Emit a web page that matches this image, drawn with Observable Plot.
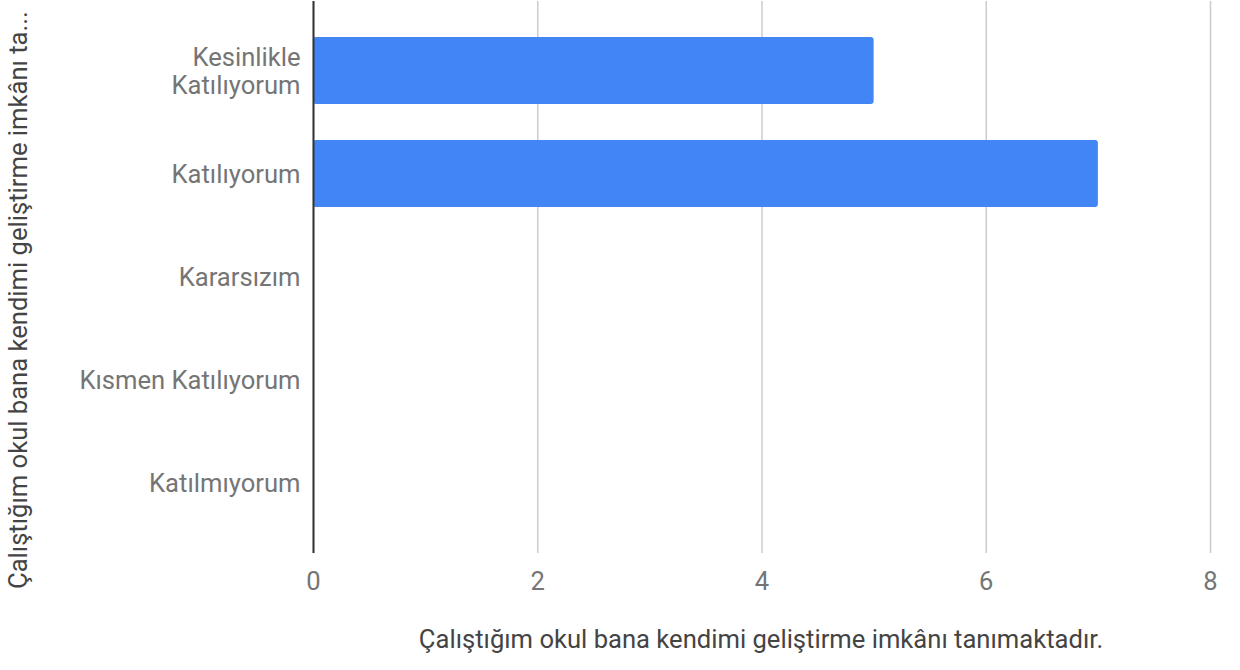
<!DOCTYPE html>
<html><head><meta charset="utf-8">
<script src="https://cdn.jsdelivr.net/npm/d3@7"></script>
<script src="https://cdn.jsdelivr.net/npm/@observablehq/plot@0.6"></script>
<style>body{margin:0;background:#fff;font-family:Roboto, sans-serif}</style>
</head><body><div id="chart"></div>
<script>
const categories = ["Kesinlikle Katılıyorum","Katılıyorum","Kararsızım","Kısmen Katılıyorum","Katılmıyorum"];
const yTickLabels = ["Kesinlikle\nKatılıyorum","Katılıyorum","Kararsızım","Kısmen Katılıyorum","Katılmıyorum"];
const counts = [5,7,0,0,0];
const xTicks = [0,2,4,6,8];
const xTitle = "Çalıştığım okul bana kendimi geliştirme imkânı tanımaktadır.";
const yTitle = "Çalıştığım okul bana kendimi geliştirme imkânı ta...";

const data = categories.map((c,i)=>({category:c, count:counts[i]}));

const chart = Plot.plot({
  width:1240, height:670, marginLeft:313, marginRight:30, marginTop:1, marginBottom:117,
  style:{fontFamily:"Roboto", fontSize:"25.6px", color:"#757575", background:"#fff"},
  x:{domain:[0,8], ticks:xTicks, label:null},
  y:{domain:categories, paddingInner:0.345, paddingOuter:0.35, label:null},
  marks:[
    Plot.gridX(xTicks, {stroke:"#cccccc", strokeOpacity:1, strokeWidth:1.5}),
    Plot.axisX({ticks:xTicks, tickSize:0, tickPadding:18, fill:"#757575", label:null}),
    Plot.axisY({tickSize:0, tickPadding:13, tickFormat:c => yTickLabels[categories.indexOf(c)], lineHeight:1.1, fill:"#757575", label:null}),
    Plot.barX(data, {x:"count", y:"category", fill:"#4285F4", rx:3}),
    Plot.ruleX([0], {stroke:"#333333", strokeWidth:2})
  ]
});
document.getElementById("chart").appendChild(chart);
const svg = d3.select(chart);
svg.append("text").text(xTitle)
  .attr("x", 761).attr("y", 648).attr("text-anchor","middle")
  .attr("fill","#444").style("font-size","25.6px");
svg.append("text").text(yTitle)
  .attr("transform","translate(27,589) rotate(-90)").attr("text-anchor","start")
  .attr("fill","#444").style("font-size","25.6px");
</script>
</body></html>
